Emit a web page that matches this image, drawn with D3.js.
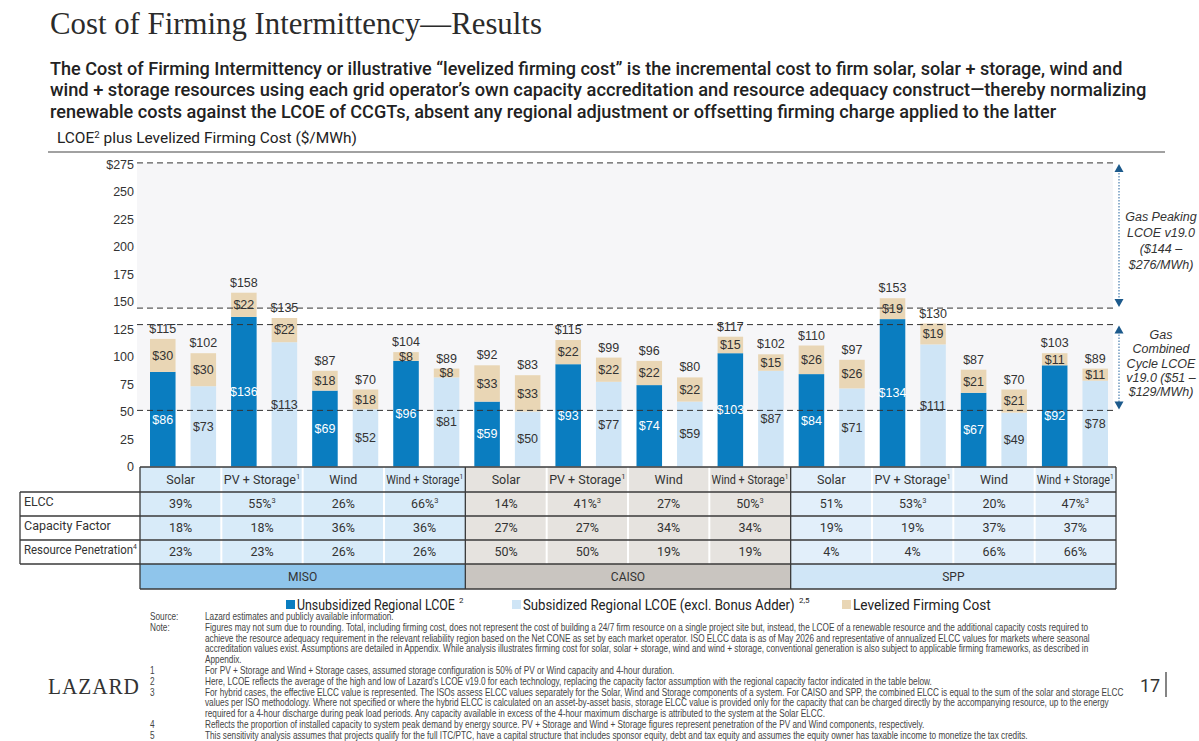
<!DOCTYPE html>
<html>
<head>
<meta charset="utf-8">
<script src="https://cdn.jsdelivr.net/npm/d3@7"></script>
<style>
  html, body { margin: 0; padding: 0; background: #fff; }
  svg { display: block; }
</style>
</head>
<body>
<div id="chart"></div>
<script>
// ---- data ----
const regions = ['MISO', 'CAISO', 'SPP'];
const technologies = ['Solar', 'PV + Storage', 'Wind', 'Wind + Storage'];
const techSup = ['', '1', '', '1'];

const unsubLcoe  = [86, 136, 69, 96, 59, 93, 74, 103, 84, 134, 67, 92];
const unsubFirm  = [30, 22, 18, 8, 33, 22, 22, 15, 26, 19, 21, 11];
const unsubTotal = [115, 158, 87, 104, 92, 115, 96, 117, 110, 153, 87, 103];
const subLcoe    = [73, 113, 52, 81, 50, 77, 59, 87, 71, 111, 49, 78];
const subFirm    = [30, 22, 18, 8, 33, 22, 22, 15, 26, 19, 21, 11];
const subTotal   = [102, 135, 70, 89, 83, 99, 80, 102, 97, 130, 70, 89];

const elcc        = ['39%', '55%', '26%', '66%', '14%', '41%', '27%', '50%', '51%', '53%', '20%', '47%'];
const elccSup     = ['', '3', '', '3', '', '3', '', '3', '', '3', '', '3'];
const capFactor   = ['18%', '18%', '36%', '36%', '27%', '27%', '34%', '34%', '19%', '19%', '37%', '37%'];
const penetration = ['23%', '23%', '26%', '26%', '50%', '50%', '19%', '19%', '4%', '4%', '66%', '66%'];

const yTicks = [0, 25, 50, 75, 100, 125, 150, 175, 200, 225, 250, 275];
const gasPeaking = [144, 276];
const gasCombined = [51, 129];

const colors = { unsub: '#0a7dc0', sub: '#cfe5f6', firm: '#e9d6b5' };
const regionFill = { MISO: '#d8ebf9', CAISO: '#e6e3df', SPP: '#e2effa' };
const regionBand = { MISO: '#8fc5eb', CAISO: '#c9c5c0', SPP: '#d0e6f7' };

const footnotes = [
  ['Source:', 'Lazard estimates and publicly available information.'],
  ['Note:', 'Figures may not sum due to rounding. Total, including firming cost, does not represent the cost of building a 24/7 firm resource on a single project site but, instead, the LCOE of a renewable resource and the additional capacity costs required to'],
  ['', 'achieve the resource adequacy requirement in the relevant reliability region based on the Net CONE as set by each market operator. ISO ELCC data is as of May 2026 and representative of annualized ELCC values for markets where seasonal'],
  ['', 'accreditation values exist. Assumptions are detailed in Appendix. While analysis illustrates firming cost for solar, solar + storage, wind and wind + storage, conventional generation is also subject to applicable firming frameworks, as described in'],
  ['', 'Appendix.'],
  ['1', 'For PV + Storage and Wind + Storage cases, assumed storage configuration is 50% of PV or Wind capacity and 4-hour duration.'],
  ['2', 'Here, LCOE reflects the average of the high and low of Lazard\u2019s LCOE v19.0 for each technology, replacing the capacity factor assumption with the  regional capacity factor indicated in the table below.'],
  ['3', 'For hybrid cases, the effective ELCC value is represented. The ISOs assess ELCC values separately for the Solar, Wind and Storage components of a system. For CAISO and  SPP, the combined ELCC is equal to the sum of the solar and storage ELCC'],
  ['', 'values per ISO methodology. Where not specified or where the hybrid ELCC is calculated on an asset-by-asset basis,  storage ELCC value is provided only for the capacity that can be charged directly by the accompanying resource, up to the energy'],
  ['', 'required for a 4-hour discharge during peak load periods. Any capacity available in excess of the 4-hour maximum discharge is attributed to the system at the Solar ELCC.'],
  ['4', 'Reflects the proportion of installed capacity to system peak demand by energy source. PV + Storage and Wind + Storage figures represent penetration of the PV and Wind components, respectively.'],
  ['5', 'This sensitivity analysis assumes that projects qualify for the full ITC/PTC, have a capital structure that includes sponsor equity, debt and tax equity and assumes the equity owner has taxable income to monetize the tax credits.']
];

const subtitle = [
  'The Cost of Firming Intermittency or illustrative \u201clevelized firming cost\u201d is the incremental cost to firm solar, solar + storage, wind and',
  'wind + storage resources using each grid operator\u2019s own capacity accreditation and resource adequacy construct\u2014thereby normalizing',
  'renewable costs against the LCOE of CCGTs, absent any regional adjustment or offsetting firming charge applied to the latter'
];

// ---- build ----
const W = 1199, H = 741;
const sans = 'Roboto, "Noto Sans", sans-serif';
const arial = '"Liberation Sans", Arial, sans-serif';
const serif = '"Liberation Serif", "DejaVu Serif", serif';

const svg = d3.select('#chart').append('svg')
  .attr('width', W).attr('height', H)
  .style('background', '#fff');

// grow/shrink font so a text spans a target width
function fitWidth(sel, width) {
  const fs = parseFloat(sel.attr('font-size'));
  const len = sel.node().getComputedTextLength();
  if (len > 0) sel.attr('font-size', (fs * width / len).toFixed(2));
  return sel;
}
// squeeze horizontally around the anchor x, keeping the font height
function squeeze(sel, s) {
  const x = +sel.attr('x');
  sel.attr('transform', `translate(${x},0) scale(${s},1) translate(${-x},0)`);
  return sel;
}
function squeezeTo(sel, width) {
  const len = sel.node().getComputedTextLength();
  return squeeze(sel, width / len);
}

// title
fitWidth(svg.append('text')
  .attr('x', 50).attr('y', 34)
  .attr('font-family', serif).attr('font-size', 30)
  .attr('fill', '#2b2b2b')
  .text('Cost of Firming Intermittency\u2014Results'), 492);

const subEnds = [1123, 1147, 1057];
subtitle.forEach((line, i) => {
  const t = svg.append('text')
    .attr('x', 50).attr('y', 75 + i * 21.5)
    .attr('font-family', sans).attr('font-size', 18.5).attr('font-weight', 500)
    .attr('fill', '#222')
    .text(line);
  squeezeTo(t, subEnds[i] - 50);
});

const yLabel = svg.append('text')
  .attr('x', 57).attr('y', 143)
  .attr('font-family', sans).attr('font-size', 14.5).attr('fill', '#222');
yLabel.append('tspan').text('LCOE');
yLabel.append('tspan').attr('font-size', 9).attr('dy', -5).text('2');
yLabel.append('tspan').attr('dy', 5).text(' plus Levelized Firming Cost ($/MWh)');
squeezeTo(yLabel, 300);

svg.append('line')
  .attr('x1', 48).attr('x2', 1165).attr('y1', 152).attr('y2', 152)
  .attr('stroke', '#444').attr('stroke-width', 1.2);

// scales
const y = d3.scaleLinear().domain([0, 275]).range([466.5, 164]);
const columns = regions.flatMap((r) => technologies.map((t, ti) => ({ region: r, tech: t, sup: techSup[ti] })));
const colIdx = d3.range(columns.length);
const xCol = d3.scaleBand().domain(colIdx).range([140, 1116]);
const barIdx = d3.range(columns.length * 2);
const xBar = d3.scaleBand().domain(barIdx).range([142.5, 1115.5]).paddingInner(0.37).paddingOuter(0.185);

const plotL = 137, plotR = 1113;

// shaded bands for gas ranges
[gasPeaking, gasCombined].forEach((rng) => {
  svg.append('rect')
    .attr('x', plotL).attr('width', plotR - plotL)
    .attr('y', y(rng[1])).attr('height', y(rng[0]) - y(rng[1]))
    .attr('fill', '#f6f6f8');
});

// y axis (labels only)
const yAxis = svg.append('g')
  .attr('transform', 'translate(134,0)')
  .call(d3.axisLeft(y).tickValues(yTicks).tickSize(0).tickPadding(0)
    .tickFormat((d) => d === 275 ? '$275' : d));
yAxis.select('.domain').remove();
yAxis.selectAll('text')
  .attr('font-family', arial).attr('font-size', 12.5).attr('fill', '#333');

// bars
const bars = [];
colIdx.forEach((i) => {
  bars.push({ pos: 2 * i, kind: 'unsub', base: unsubLcoe[i], firm: unsubFirm[i], total: unsubTotal[i] });
  bars.push({ pos: 2 * i + 1, kind: 'sub', base: subLcoe[i], firm: subFirm[i], total: subTotal[i] });
});

const gBars = svg.append('g');
gBars.selectAll('rect.base').data(bars).enter().append('rect')
  .attr('class', 'base')
  .attr('x', (d) => xBar(d.pos)).attr('width', xBar.bandwidth())
  .attr('y', (d) => y(d.base)).attr('height', (d) => y(0) - y(d.base))
  .attr('fill', (d) => colors[d.kind]);
gBars.selectAll('rect.firm').data(bars).enter().append('rect')
  .attr('class', 'firm')
  .attr('x', (d) => xBar(d.pos)).attr('width', xBar.bandwidth())
  .attr('y', (d) => y(d.base + d.firm)).attr('height', (d) => y(d.base) - y(d.base + d.firm))
  .attr('fill', colors.firm);

// dashed reference lines (drawn over the bars)
[gasPeaking[1], gasPeaking[0], gasCombined[1], gasCombined[0]].forEach((v) => {
  svg.append('line')
    .attr('x1', plotL).attr('x2', plotR).attr('y1', y(v)).attr('y2', y(v))
    .attr('stroke', '#333').attr('stroke-width', 1).attr('stroke-dasharray', '6,4');
});

const lab = svg.append('g').attr('font-family', arial).attr('font-size', 12.5).attr('text-anchor', 'middle');
const cx = (d) => xBar(d.pos) + xBar.bandwidth() / 2;
lab.selectAll('text.b').data(bars).enter().append('text')
  .attr('x', cx).attr('y', (d) => y(d.base / 2)).attr('dy', '0.35em')
  .attr('fill', (d) => d.kind === 'unsub' ? '#fff' : '#333')
  .text((d) => '$' + d.base);
lab.selectAll('text.f').data(bars).enter().append('text')
  .attr('x', cx).attr('y', (d) => y(d.base + d.firm / 2)).attr('dy', '0.35em')
  .attr('fill', '#333')
  .text((d) => '$' + d.firm);
lab.selectAll('text.t').data(bars).enter().append('text')
  .attr('x', cx).attr('y', (d) => y(d.base + d.firm) - 6)
  .attr('fill', '#333')
  .text((d) => '$' + d.total);

// range arrows + annotations
const arrowX = 1119;
function rangeArrow(rng) {
  const top = y(rng[1]) + 1, bot = y(rng[0]) - 1;
  svg.append('line')
    .attr('x1', arrowX).attr('x2', arrowX).attr('y1', top + 6).attr('y2', bot - 6)
    .attr('stroke', '#4a7fb0').attr('stroke-width', 1.2).attr('stroke-dasharray', '1.5,1.5');
  svg.append('path')
    .attr('d', `M${arrowX},${top} l-4.5,8 h9 z M${arrowX},${bot} l-4.5,-8 h9 z`)
    .attr('fill', '#1c5a8c');
}
rangeArrow(gasPeaking);
rangeArrow(gasCombined);

function note(lines, y0, step) {
  const t = svg.append('text')
    .attr('font-family', arial).attr('font-size', 12.5).attr('font-style', 'italic')
    .attr('fill', '#333').attr('text-anchor', 'middle');
  lines.forEach((l, i) => t.append('tspan').attr('x', 1161).attr('y', y0 + i * step).text(l));
}
note(['Gas Peaking', 'LCOE v19.0', '($144 \u2013', '$276/MWh)'], 221, 16);
note(['Gas', 'Combined', 'Cycle LCOE', 'v19.0 ($51 \u2013', '$129/MWh)'], 339, 14.3);

// ---- table ----
const rowTop = [467, 492, 516, 540, 564, 589];
const tbl = svg.append('g');

colIdx.forEach((i) => {
  tbl.append('rect')
    .attr('x', xCol(i)).attr('width', xCol.bandwidth())
    .attr('y', rowTop[0]).attr('height', rowTop[4] - rowTop[0])
    .attr('fill', regionFill[columns[i].region]);
});
// white separators between columns
colIdx.forEach((i) => {
  if (i % 4 === 0) return;
  tbl.append('line')
    .attr('x1', xCol(i)).attr('x2', xCol(i)).attr('y1', rowTop[0]).attr('y2', rowTop[4])
    .attr('stroke', '#fff').attr('stroke-width', 2);
});
// region band row
regions.forEach((r, ri) => {
  const x0 = xCol(ri * 4), x1 = xCol(ri * 4 + 3) + xCol.bandwidth();
  tbl.append('rect')
    .attr('x', x0).attr('width', x1 - x0)
    .attr('y', rowTop[4]).attr('height', rowTop[5] - rowTop[4])
    .attr('fill', regionBand[r]);
  tbl.append('text')
    .attr('x', (x0 + x1) / 2).attr('y', (rowTop[4] + rowTop[5]) / 2).attr('dy', '0.35em')
    .attr('text-anchor', 'middle').attr('font-family', sans).attr('font-size', 12)
    .attr('fill', '#333').text(r);
});

const cellText = (x, yy, txt, sup) => {
  const t = tbl.append('text')
    .attr('x', x).attr('y', yy).attr('dy', '0.35em')
    .attr('text-anchor', 'middle').attr('font-family', sans).attr('font-size', 12.5)
    .attr('fill', '#333');
  t.append('tspan').text(txt);
  if (sup) t.append('tspan').attr('font-size', 7.5).attr('dy', -5).text(sup);
  const len = t.node().getComputedTextLength();
  if (len > 77) squeeze(t, 77 / len);
};
colIdx.forEach((i) => {
  const x = xCol(i) + xCol.bandwidth() / 2;
  cellText(x, (rowTop[0] + rowTop[1]) / 2, columns[i].tech, columns[i].sup);
  cellText(x, (rowTop[1] + rowTop[2]) / 2, elcc[i], elccSup[i]);
  cellText(x, (rowTop[2] + rowTop[3]) / 2, capFactor[i], '');
  cellText(x, (rowTop[3] + rowTop[4]) / 2, penetration[i], '');
});

const rowLabels = [['ELCC', ''], ['Capacity Factor', ''], ['Resource Penetration', '4']];
rowLabels.forEach((rl, r) => {
  const t = tbl.append('text')
    .attr('x', 24).attr('y', (rowTop[r + 1] + rowTop[r + 2]) / 2 - 2).attr('dy', '0.35em')
    .attr('font-family', sans).attr('font-size', 12.5).attr('fill', '#333');
  t.append('tspan').text(rl[0]);
  if (rl[1]) t.append('tspan').attr('font-size', 7.5).attr('dy', -5).text(rl[1]);
  const len = t.node().getComputedTextLength();
  if (len > 113) squeeze(t, 113 / len);
});

// table borders
const bl = (x1, y1, x2, y2) => tbl.append('line')
  .attr('x1', x1).attr('y1', y1).attr('x2', x2).attr('y2', y2)
  .attr('stroke', '#3a3a3a').attr('stroke-width', 1.3);
bl(140, rowTop[0], 1116, rowTop[0]);
[1, 2, 3, 4].forEach((r) => bl(20, rowTop[r], 1116, rowTop[r]));
bl(140, rowTop[5], 1116, rowTop[5]);
bl(20, rowTop[1], 20, rowTop[4]);
[0, 4, 8].forEach((i) => bl(xCol(i), rowTop[0], xCol(i), rowTop[5]));
bl(1116, rowTop[0], 1116, rowTop[5]);

// ---- legend ----
const legend = [
  { x: 286, w: 158, color: colors.unsub, label: 'Unsubsidized Regional LCOE', sup: '2' },
  { x: 512, w: 272, color: colors.sub, label: 'Subsidized Regional LCOE (excl. Bonus Adder)', sup: '2,5' },
  { x: 842, w: 138, color: colors.firm, label: 'Levelized Firming Cost', sup: '' }
];
legend.forEach((l) => {
  svg.append('rect').attr('x', l.x).attr('y', 600).attr('width', 9).attr('height', 9).attr('fill', l.color);
  const t = svg.append('text')
    .attr('x', l.x + 11).attr('y', 610)
    .attr('font-family', sans).attr('font-size', 14.5).attr('fill', '#222')
    .text(l.label);
  squeezeTo(t, l.w);
  if (l.sup) {
    svg.append('text')
      .attr('x', l.x + 11 + l.w + 4).attr('y', 603)
      .attr('font-family', sans).attr('font-size', 8).attr('fill', '#222')
      .text(l.sup);
  }
});

// ---- footnotes ----
// narrow look: Liberation Sans squeezed so the long Note line runs 205 -> ~1112
const fnSize = 10;
const fn = svg.append('g').attr('font-family', arial).attr('font-size', fnSize).attr('fill', '#444');
const probe = fn.append('text').attr('x', 0).attr('y', -50).text(footnotes[1][1]);
const fnScale = 884 / probe.node().getComputedTextLength();
probe.remove();
const fnY = [620, 631, 642, 652, 663, 674, 685, 696, 706, 717, 728, 739];
footnotes.forEach((f, i) => {
  if (f[0]) squeeze(fn.append('text').attr('x', 150).attr('y', fnY[i]).text(f[0]), fnScale);
  squeeze(fn.append('text').attr('x', 205).attr('y', fnY[i]).text(f[1]), fnScale);
});

// logo and page number
const logo = svg.append('text')
  .attr('x', 48).attr('y', 694)
  .attr('font-family', serif).attr('font-size', 23).attr('letter-spacing', 1)
  .attr('fill', '#333').text('LAZARD');
squeezeTo(logo, 92);
svg.append('text')
  .attr('x', 1140).attr('y', 692)
  .attr('font-family', sans).attr('font-size', 18).attr('fill', '#333').text('17');
svg.append('line')
  .attr('x1', 1166).attr('x2', 1166).attr('y1', 672).attr('y2', 697)
  .attr('stroke', '#333').attr('stroke-width', 1.2);
</script>
</body>
</html>
